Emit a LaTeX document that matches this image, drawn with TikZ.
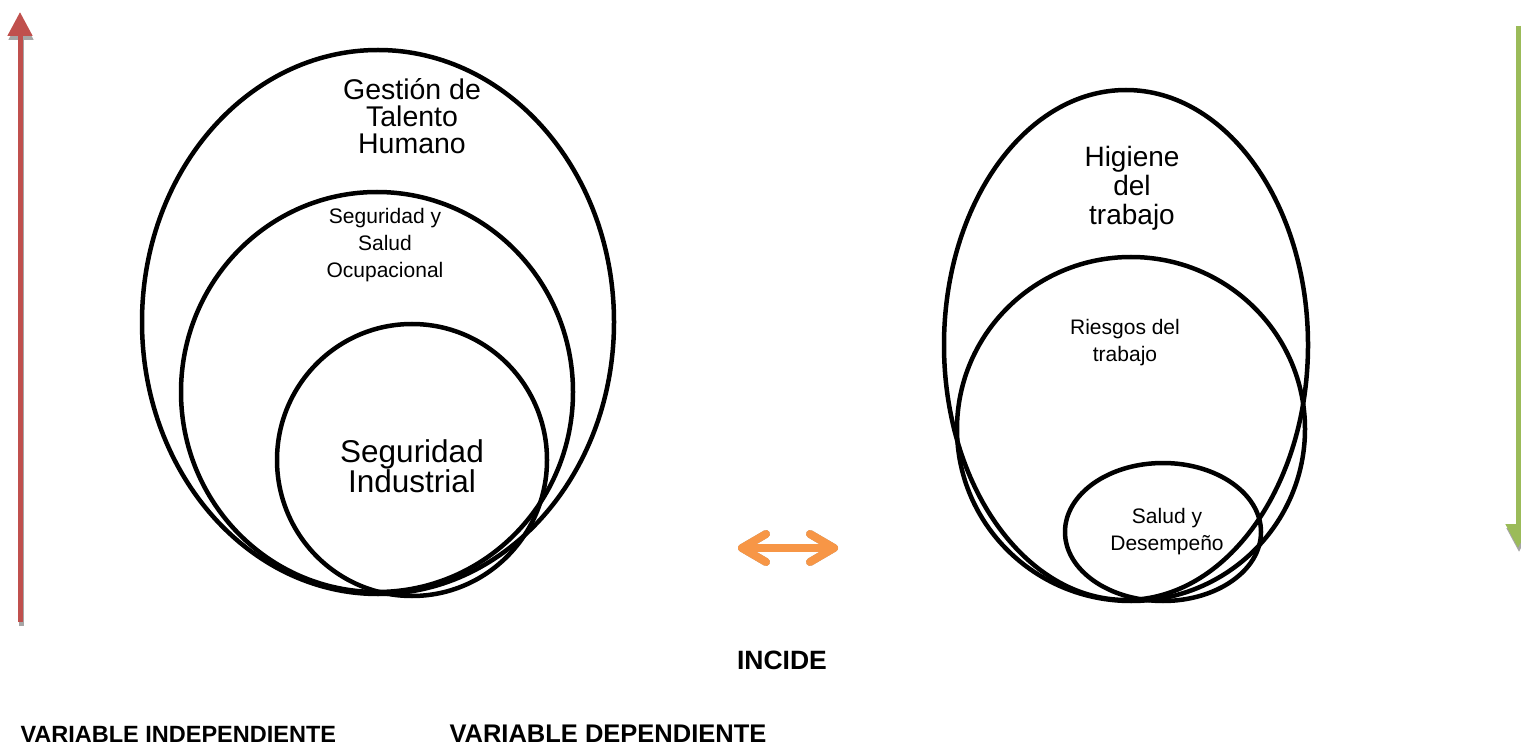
\documentclass[tikz,border=0pt]{standalone}
\usepackage{fontspec}
\setmainfont{Liberation Sans}
\usetikzlibrary{shapes.geometric,arrows.meta}
\definecolor{redarrow}{HTML}{C0504D}
\definecolor{greenarrow}{HTML}{9BBB59}
\definecolor{orangearrow}{HTML}{F79646}
\definecolor{shadowgray}{HTML}{A6A6A6}
\begin{document}
\begin{tikzpicture}[x=1pt,y=-1pt,
  ring/.style={draw=black,line width=4.5pt,ellipse,inner sep=0pt},
  lbl/.style={align=center,font=\fontsize{21}{27}\selectfont},
  var/.style={anchor=base west,font=\bfseries\fontsize{23.5}{28}\selectfont},
]
\useasboundingbox (0,0) rectangle (1521,751);
% left rings
\node[ring,minimum width=472pt,minimum height=544pt] (gth) at (378,322) {};
\node[ring,minimum width=392pt,minimum height=400pt] (sso) at (377,392) {};
\node[ring,minimum width=270pt,minimum height=272pt] (si) at (412,460) {};
% right rings
\node[ring,minimum width=364pt,minimum height=510pt] (ht) at (1126,345) {};
\node[ring,minimum width=348pt,minimum height=344pt] (rt) at (1131,429) {};
\node[ring,minimum width=196pt,minimum height=138pt] (sd) at (1163,532) {};
% texts
\node[align=center,font=\fontsize{28.5}{27}\selectfont] (t1) at (412,116) {Gestión de\\Talento\\Humano};
\node[lbl] (t2) at (385,245) {Seguridad y\\Salud\\Ocupacional};
\node[align=center,font=\fontsize{31.5}{30}\selectfont] (t3) at (412,466) {Seguridad\\Industrial};
\node[align=center,font=\fontsize{28}{29}\selectfont] (t4) at (1132,188) {Higiene\\del\\trabajo};
\node[lbl] (t5) at (1125,343) {Riesgos del\\trabajo};
\node[lbl] (t6) at (1167,532) {Salud y\\Desempeño};
\node[font=\bfseries\fontsize{26.5}{30}\selectfont] (inc) at (782,660) {INCIDE};
\node[var] (vi) at (17,742) {VARIABLE INDEPENDIENTE};
\node[var,font=\bfseries\fontsize{25.5}{30}\selectfont] (vd) at (446,742) {VARIABLE DEPENDIENTE};
% red arrow
\coordinate (ra) at (20,622);
\coordinate (rb) at (20,12);
\draw[shadowgray,line width=5pt,-{Triangle[width=24pt,length=24pt]}] ([shift={(1,4)}]ra) -- ([shift={(1,4)}]rb);
\draw[redarrow,line width=5pt,-{Triangle[width=24pt,length=24pt]}] (ra) -- (rb);
% green arrow
\coordinate (ga) at (1518,26);
\coordinate (gb) at (1518,548);
\draw[shadowgray,line width=5pt,-{Triangle[width=24pt,length=24pt]}] ([shift={(1,4)}]ga) -- ([shift={(1,4)}]gb);
\draw[greenarrow,line width=5pt,-{Triangle[width=24pt,length=24pt]}] (ga) -- (gb);
% orange double arrow
\coordinate (oa) at (742,548);
\coordinate (ob) at (834,548);
\begin{scope}[shift={(3,5)}]
\draw[shadowgray,line width=8pt,line cap=round,line join=round] (oa) -- (ob);
\draw[shadowgray,line width=8pt,line cap=round,line join=round] ([shift={(24,-14)}]oa) -- (oa) -- ([shift={(24,14)}]oa);
\draw[shadowgray,line width=8pt,line cap=round,line join=round] ([shift={(-24,-14)}]ob) -- (ob) -- ([shift={(-24,14)}]ob);
\end{scope}
\draw[orangearrow,line width=8pt,line cap=round,line join=round] (oa) -- (ob);
\draw[orangearrow,line width=8pt,line cap=round,line join=round] ([shift={(24,-14)}]oa) -- (oa) -- ([shift={(24,14)}]oa);
\draw[orangearrow,line width=8pt,line cap=round,line join=round] ([shift={(-24,-14)}]ob) -- (ob) -- ([shift={(-24,14)}]ob);
\end{tikzpicture}
\end{document}
